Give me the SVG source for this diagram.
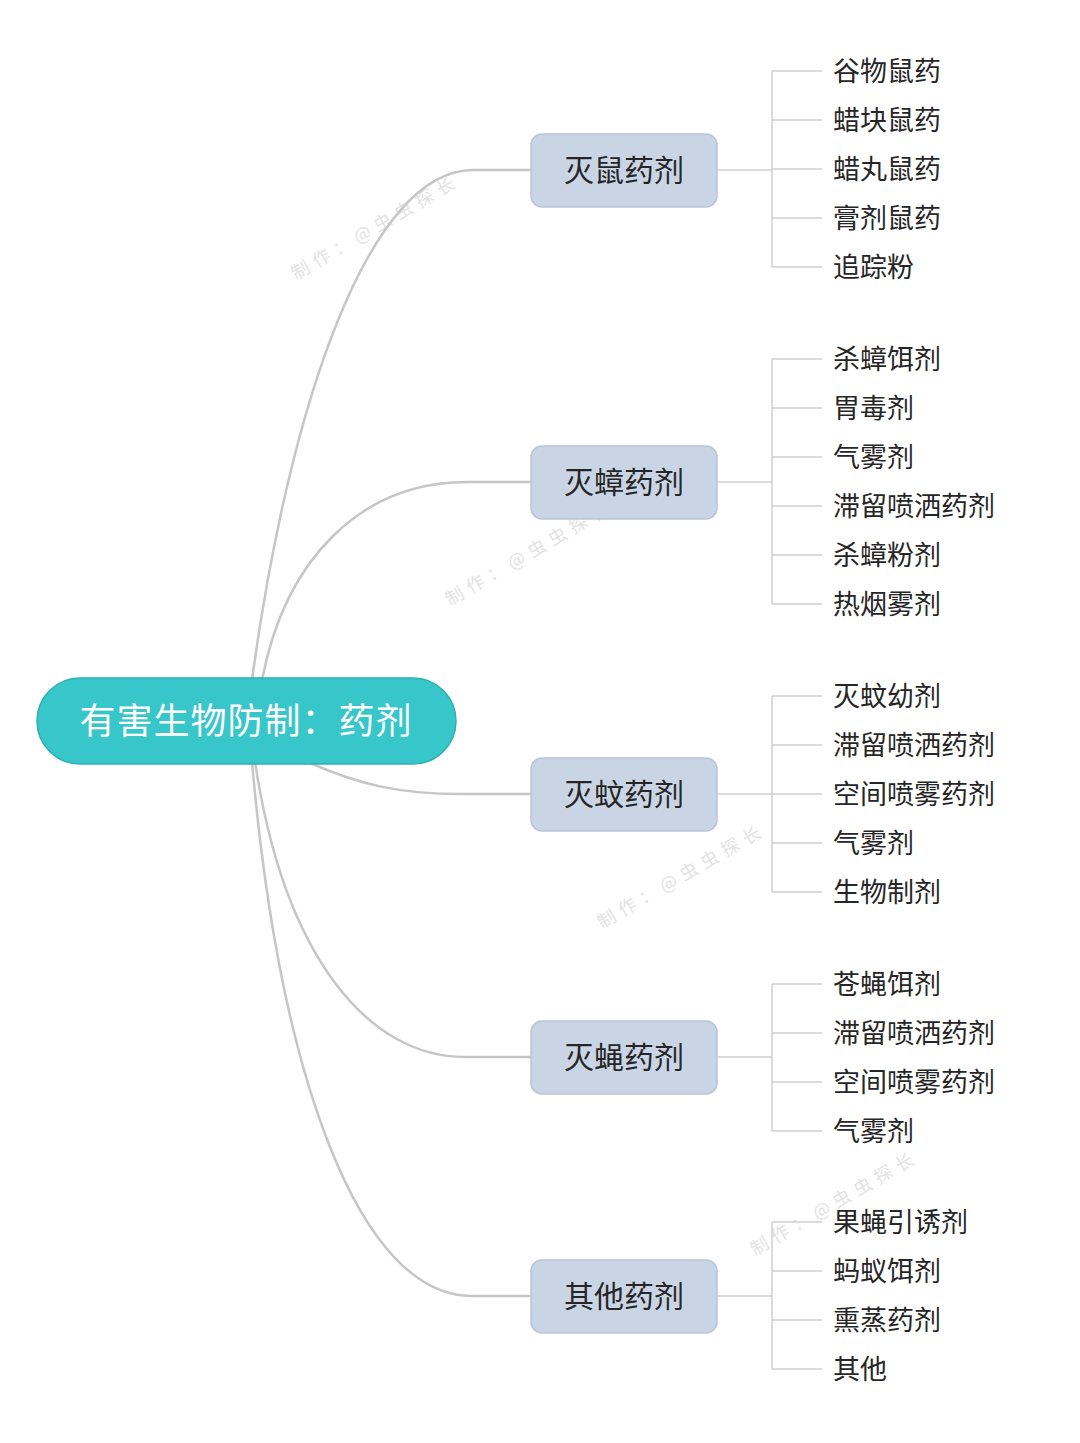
<svg xmlns="http://www.w3.org/2000/svg" width="1080" height="1443" viewBox="0 0 1080 1443">
<style>
.curve{fill:none;stroke:#C6C6C6;stroke-width:2.5}
.br{fill:none;stroke:#CFCFCF;stroke-width:1.5}
.mid rect{fill:#C9D5E5;stroke:#B9C5D6;stroke-width:1.5}
.mid text{font-family:"Noto Sans CJK SC","Noto Sans",sans-serif;font-size:30px;fill:#262626;text-anchor:middle}
.leaf{font-family:"Noto Sans CJK SC","Noto Sans",sans-serif;font-size:27px;fill:#262626}
.wm{font-family:"Noto Sans CJK SC",sans-serif;font-size:18px;letter-spacing:6px;fill:#E3E3E3}
</style>
<rect width="1080" height="1443" fill="#FFFFFF"/>
<g id="watermarks">
<text class="wm" transform="translate(296,280) rotate(-30)">制作：@虫虫探长</text>
<text class="wm" transform="translate(450,606) rotate(-30)">制作：@虫虫探长</text>
<text class="wm" transform="translate(602,929) rotate(-30)">制作：@虫虫探长</text>
<text class="wm" transform="translate(755,1256) rotate(-30)">制作：@虫虫探长</text>
</g>
<g id="connectors">
<path class="curve" d="M252,680 C290,400 370,170 473,170 L531,170"/>
<path class="curve" d="M262,680 C285,560 360,482 467,482 L531,482"/>
<path class="curve" d="M308,762 C360,785 400,794 460,794 L531,794"/>
<path class="curve" d="M255,762 C285,960 370,1057 465,1057 L531,1057"/>
<path class="curve" d="M252,762 C280,1080 360,1296 472,1296 L531,1296"/>
<path class="br" d="M717,170 H772 M772,71 V267 M772,71 H822 M772,120 H822 M772,169 H822 M772,218 H822 M772,267 H822"/>
<path class="br" d="M717,482 H772 M772,359 V604 M772,359 H822 M772,408 H822 M772,457 H822 M772,506 H822 M772,555 H822 M772,604 H822"/>
<path class="br" d="M717,794 H772 M772,696 V892 M772,696 H822 M772,745 H822 M772,794 H822 M772,843 H822 M772,892 H822"/>
<path class="br" d="M717,1057 H772 M772,984 V1131 M772,984 H822 M772,1033 H822 M772,1082 H822 M772,1131 H822"/>
<path class="br" d="M717,1296 H772 M772,1222 V1369 M772,1222 H822 M772,1271 H822 M772,1320 H822 M772,1369 H822"/>
</g>
<g id="root">
<rect x="37" y="678" width="419" height="86" rx="43" fill="#37C6C9" stroke="#2FAFB3" stroke-width="1.5"/>
<text x="246" y="734" font-family="'Noto Sans CJK SC','Noto Sans',sans-serif" font-size="36" letter-spacing="1" fill="#FFFFFF" text-anchor="middle">有害生物防制：药剂</text>
</g>
<g id="n1" class="mid"><rect x="531" y="134" width="186" height="73" rx="11"/><text x="624" y="181">灭鼠药剂</text></g>
<g id="n2" class="mid"><rect x="531" y="446" width="186" height="73" rx="11"/><text x="624" y="493">灭蟑药剂</text></g>
<g id="n3" class="mid"><rect x="531" y="758" width="186" height="73" rx="11"/><text x="624" y="805">灭蚊药剂</text></g>
<g id="n4" class="mid"><rect x="531" y="1021" width="186" height="73" rx="11"/><text x="624" y="1068">灭蝇药剂</text></g>
<g id="n5" class="mid"><rect x="531" y="1260" width="186" height="73" rx="11"/><text x="624" y="1307">其他药剂</text></g>
<g id="leaves1">
<text class="leaf" x="833" y="81">谷物鼠药</text>
<text class="leaf" x="833" y="130">蜡块鼠药</text>
<text class="leaf" x="833" y="179">蜡丸鼠药</text>
<text class="leaf" x="833" y="228">膏剂鼠药</text>
<text class="leaf" x="833" y="277">追踪粉</text>
</g>
<g id="leaves2">
<text class="leaf" x="833" y="369">杀蟑饵剂</text>
<text class="leaf" x="833" y="418">胃毒剂</text>
<text class="leaf" x="833" y="467">气雾剂</text>
<text class="leaf" x="833" y="516">滞留喷洒药剂</text>
<text class="leaf" x="833" y="565">杀蟑粉剂</text>
<text class="leaf" x="833" y="614">热烟雾剂</text>
</g>
<g id="leaves3">
<text class="leaf" x="833" y="706">灭蚊幼剂</text>
<text class="leaf" x="833" y="755">滞留喷洒药剂</text>
<text class="leaf" x="833" y="804">空间喷雾药剂</text>
<text class="leaf" x="833" y="853">气雾剂</text>
<text class="leaf" x="833" y="902">生物制剂</text>
</g>
<g id="leaves4">
<text class="leaf" x="833" y="994">苍蝇饵剂</text>
<text class="leaf" x="833" y="1043">滞留喷洒药剂</text>
<text class="leaf" x="833" y="1092">空间喷雾药剂</text>
<text class="leaf" x="833" y="1141">气雾剂</text>
</g>
<g id="leaves5">
<text class="leaf" x="833" y="1232">果蝇引诱剂</text>
<text class="leaf" x="833" y="1281">蚂蚁饵剂</text>
<text class="leaf" x="833" y="1330">熏蒸药剂</text>
<text class="leaf" x="833" y="1379">其他</text>
</g>
</svg>
